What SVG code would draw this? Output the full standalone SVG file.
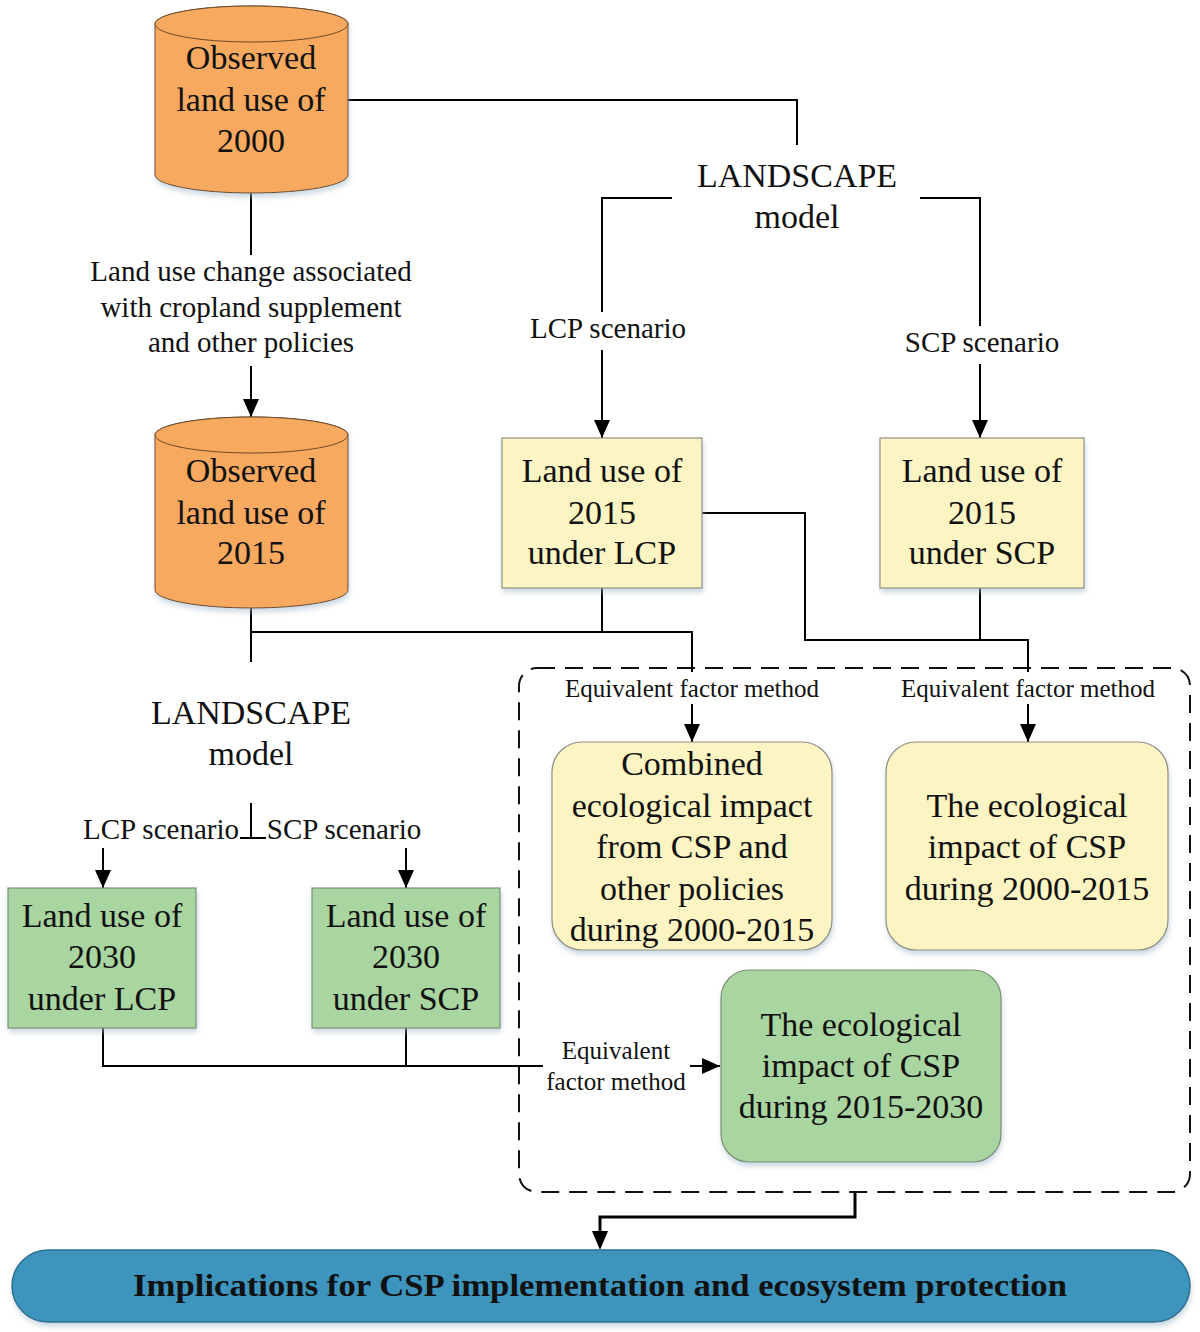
<svg xmlns="http://www.w3.org/2000/svg" width="1200" height="1332" viewBox="0 0 1200 1332">
<style>
  text { font-family: "Liberation Serif", "Times New Roman", serif; fill: #111; text-anchor: middle; }
  .n { font-size: 34px; }
  .s { font-size: 29px; }
  .e { font-size: 25px; }
  .b { font-size: 32px; font-weight: bold; }
  .cyl { fill: #f7a95e; stroke: #6b4a2a; stroke-width: 1; }
  .yel { fill: #fcf4c2; stroke: #8f8f86; stroke-width: 1.2; }
  .grn { fill: #a9d5a0; stroke: #7c8f78; stroke-width: 1.2; }
  .ln { fill: none; stroke: #000; stroke-width: 2; }
  .arr { fill: none; stroke: #000; stroke-width: 2; marker-end: url(#ah); }
</style>
<defs>
  <marker id="ah" viewBox="0 0 18 16" refX="18" refY="8" markerWidth="18" markerHeight="16" markerUnits="userSpaceOnUse" orient="auto">
    <path d="M0,0 L18,8 L0,16 Z" fill="#000"/>
  </marker>
  <filter id="sh" x="-10%" y="-10%" width="120%" height="130%">
    <feDropShadow dx="1" dy="4" stdDeviation="2.5" flood-color="#9fb6c8" flood-opacity="0.5"/>
  </filter>
</defs>
<rect width="1200" height="1332" fill="#fff"/>

<g id="connectors">
  <polyline class="ln" points="348,100 797,100 797,145"/>
  <polyline class="ln" points="672,198 602,198 602,312"/>
  <line class="arr" x1="602" y1="350" x2="602" y2="438"/>
  <polyline class="ln" points="920,198 980,198 980,326"/>
  <line class="arr" x1="980" y1="364" x2="980" y2="438"/>
  <line class="ln" x1="251" y1="192" x2="251" y2="255"/>
  <line class="arr" x1="251" y1="366" x2="251" y2="417"/>
  <line class="ln" x1="251" y1="608" x2="251" y2="662"/>
  <polyline class="ln" points="251,632 692,632 692,672"/>
  <line class="ln" x1="602" y1="588" x2="602" y2="632"/>
  <line class="arr" x1="692" y1="704" x2="692" y2="742"/>
  <polyline class="ln" points="702,513 805,513 805,640 1028,640 1028,672"/>
  <line class="ln" x1="980" y1="588" x2="980" y2="640"/>
  <line class="arr" x1="1028" y1="704" x2="1028" y2="742"/>
  <polyline class="ln" points="251,803 251,838"/>
  <line class="ln" x1="240" y1="838" x2="266" y2="838"/>
  <line class="arr" x1="103" y1="848" x2="103" y2="888"/>
  <line class="arr" x1="406" y1="848" x2="406" y2="888"/>
  <polyline class="ln" points="103,1028 103,1066 543,1066"/>
  <line class="ln" x1="406" y1="1028" x2="406" y2="1066"/>
  <line class="arr" x1="690" y1="1066" x2="720" y2="1066"/>
  <polyline fill="none" stroke="#000" stroke-width="3" points="855,1192 855,1217 600,1217 600,1234"/>
  <path d="M592,1231 L608,1231 L600,1250 Z" fill="#000"/>
</g>

<g id="dashed-group">
  <rect x="519" y="668" width="671" height="524" rx="18" fill="none" stroke="#111" stroke-width="2" stroke-dasharray="18 10"/>
</g>

<g id="cyl-2000" filter="url(#sh)">
  <path class="cyl" d="M155,24 L155,175 A96.5,18 0 0 0 348,175 L348,24 A96.5,18 0 0 0 155,24 Z"/>
  <ellipse class="cyl" cx="251.5" cy="24" rx="96.5" ry="18"/>
</g>
<g id="cyl-2000-text">
  <text class="n" x="251" y="69">Observed</text>
  <text class="n" x="251" y="111">land use of</text>
  <text class="n" x="251" y="152">2000</text>
</g>

<g id="cyl-2015" filter="url(#sh)">
  <path class="cyl" d="M155,435 L155,590 A96.5,18 0 0 0 348,590 L348,435 A96.5,18 0 0 0 155,435 Z"/>
  <ellipse class="cyl" cx="251.5" cy="435" rx="96.5" ry="18"/>
</g>
<g id="cyl-2015-text">
  <text class="n" x="251" y="482">Observed</text>
  <text class="n" x="251" y="524">land use of</text>
  <text class="n" x="251" y="564">2015</text>
</g>

<g id="landscape-top">
  <text class="n" x="797" y="187">LANDSCAPE</text>
  <text class="n" x="797" y="228">model</text>
</g>
<g id="label-lcp-top"><text class="s" x="608" y="338">LCP scenario</text></g>
<g id="label-scp-top"><text class="s" x="982" y="352">SCP scenario</text></g>

<g id="label-landuse-change">
  <text class="s" x="251" y="281">Land use change associated</text>
  <text class="s" x="251" y="317">with cropland supplement</text>
  <text class="s" x="251" y="352">and other policies</text>
</g>

<g id="lcp-2015">
  <rect class="yel" x="502" y="438" width="200" height="150" filter="url(#sh)"/>
  <text class="n" x="602" y="482">Land use of</text>
  <text class="n" x="602" y="524">2015</text>
  <text class="n" x="602" y="564">under LCP</text>
</g>
<g id="scp-2015">
  <rect class="yel" x="880" y="438" width="204" height="150" filter="url(#sh)"/>
  <text class="n" x="982" y="482">Land use of</text>
  <text class="n" x="982" y="524">2015</text>
  <text class="n" x="982" y="564">under SCP</text>
</g>

<g id="efm-1"><text class="e" x="692" y="697">Equivalent factor method</text></g>
<g id="efm-2"><text class="e" x="1028" y="697">Equivalent factor method</text></g>

<g id="combined-impact">
  <rect class="yel" x="552" y="742" width="280" height="208" rx="30" filter="url(#sh)"/>
  <text class="n" x="692" y="775">Combined</text>
  <text class="n" x="692" y="817">ecological impact</text>
  <text class="n" x="692" y="858">from CSP and</text>
  <text class="n" x="692" y="900">other policies</text>
  <text class="n" x="692" y="941">during 2000-2015</text>
</g>
<g id="impact-2000-2015">
  <rect class="yel" x="886" y="742" width="282" height="208" rx="30" filter="url(#sh)"/>
  <text class="n" x="1027" y="817">The ecological</text>
  <text class="n" x="1027" y="858">impact of CSP</text>
  <text class="n" x="1027" y="900">during 2000-2015</text>
</g>

<g id="landscape-left">
  <text class="n" x="251" y="724">LANDSCAPE</text>
  <text class="n" x="251" y="765">model</text>
</g>
<g id="label-lcp-left"><text class="s" x="161" y="839">LCP scenario</text></g>
<g id="label-scp-left"><text class="s" x="344" y="839">SCP scenario</text></g>

<g id="lcp-2030">
  <rect class="grn" x="8" y="888" width="188" height="140" filter="url(#sh)"/>
  <text class="n" x="102" y="927">Land use of</text>
  <text class="n" x="102" y="968">2030</text>
  <text class="n" x="102" y="1010">under LCP</text>
</g>
<g id="scp-2030">
  <rect class="grn" x="312" y="888" width="188" height="140" filter="url(#sh)"/>
  <text class="n" x="406" y="927">Land use of</text>
  <text class="n" x="406" y="968">2030</text>
  <text class="n" x="406" y="1010">under SCP</text>
</g>

<g id="efm-3">
  <text class="e" x="616" y="1059">Equivalent</text>
  <text class="e" x="616" y="1090">factor method</text>
</g>

<g id="impact-2015-2030">
  <rect class="grn" x="721" y="970" width="280" height="192" rx="28" filter="url(#sh)"/>
  <text class="n" x="861" y="1036">The ecological</text>
  <text class="n" x="861" y="1077">impact of CSP</text>
  <text class="n" x="861" y="1118">during 2015-2030</text>
</g>

<g id="implications">
  <rect x="12" y="1250" width="1178" height="72" rx="36" fill="#3c95bd" stroke="#2b6f8f" stroke-width="1.5" filter="url(#sh)"/>
  <text class="b" x="600" y="1296" textLength="934" lengthAdjust="spacingAndGlyphs">Implications for CSP implementation and ecosystem protection</text>
</g>
</svg>
